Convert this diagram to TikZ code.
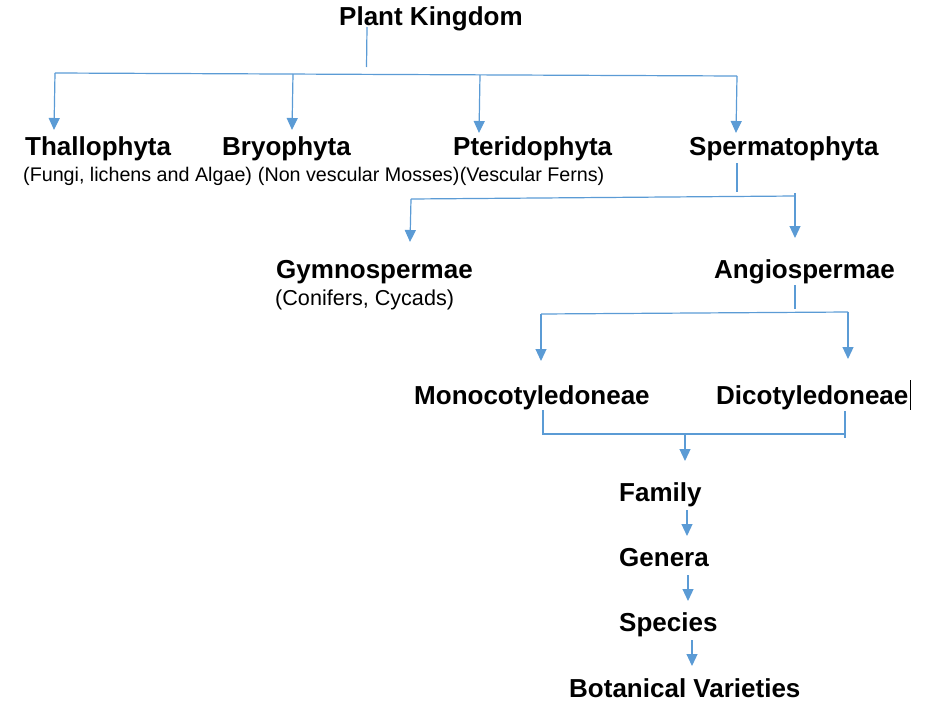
\documentclass[tikz,border=0pt]{standalone}
\usepackage{fontspec}
\setmainfont{Liberation Sans}
\usetikzlibrary{arrows.meta}
\definecolor{lineblue}{HTML}{5B9BD5}
\tikzset{
  ttl/.style={anchor=base west, inner sep=0pt, font=\fontsize{26}{30}\selectfont\bfseries},
  sub/.style={anchor=base west, inner sep=0pt, font=\fontsize{19.7}{23}\selectfont},
  ln/.style={draw=lineblue, line width=1.2pt},
  arr/.style={ln, -{Triangle[length=12pt,width=11pt]}, fill=lineblue}
}
\begin{document}
\begin{tikzpicture}[x=1pt,y=-1pt]
\useasboundingbox (0,0) rectangle (941,704);
% titles
\node[ttl] (pk) at (339,25) {Plant Kingdom};
\node[ttl] (thal) at (25,155) {Thallophyta};
\node[ttl] (bryo) at (222,155) {Bryophyta};
\node[ttl] (pter) at (453,155) {Pteridophyta};
\node[ttl] (sperm) at (689,155) {Spermatophyta};
\node[sub] (thalsub) at (23,181) {(Fungi, lichens and Algae)};
\node[sub] (bryosub) at ([xshift=5.5pt]thalsub.base east) {(Non vescular Mosses)};
\node[sub] (ptersub) at (bryosub.base east) {(Vescular Ferns)};
\node[ttl] (gymno) at (276,278) {Gymnospermae};
\node[sub, font=\fontsize{21.6}{25}\selectfont] (gymnosub) at (275,305) {(Conifers, Cycads)};
\node[ttl] (angio) at (714,278) {Angiospermae};
\node[ttl] (mono) at (414,404) {Monocotyledoneae};
\node[ttl] (dico) at (716,404) {Dicotyledoneae};
\node[ttl] (fam) at (619,501) {Family};
\node[ttl] (gen) at (619,566) {Genera};
\node[ttl] (spec) at (619,631) {Species};
\node[ttl] (bot) at (569,697) {Botanical Varieties};
% junction coordinates
\coordinate (pkA) at (367,27);
\coordinate (pkB) at (366.5,67);
\coordinate (h1L) at (55,73);
\coordinate (h1B) at (293,74);
\coordinate (h1P) at (480,75);
\coordinate (h1R) at (737,76);
\coordinate (tThal) at (54,130);
\coordinate (tBryo) at (292,130);
\coordinate (tPter) at (479,133);
\coordinate (tSperm) at (736,133);
\coordinate (spA) at (737,163);
\coordinate (spB) at (737,192);
\coordinate (h2L) at (411,199);
\coordinate (h2R) at (795,196);
\coordinate (h2T) at (795,193);
\coordinate (tGymno) at (410,242);
\coordinate (tAngio) at (795,238);
\coordinate (anA) at (795,285);
\coordinate (anB) at (795,309);
\coordinate (h3L) at (541,314);
\coordinate (h3R) at (848,312);
\coordinate (tMono) at (541,361);
\coordinate (tDico) at (848,359);
\coordinate (moA) at (543,410);
\coordinate (h4L) at (543,434);
\coordinate (diA) at (845,411);
\coordinate (h4R) at (845,434);
\coordinate (h4R2) at (845,438);
\coordinate (h4M) at (685,434);
\coordinate (tFam) at (685,461);
\coordinate (faA) at (687,510);
\coordinate (tGen) at (687,536);
\coordinate (geA) at (688,575);
\coordinate (tSpec) at (688,601);
\coordinate (scA) at (692,640);
\coordinate (tBot) at (692,666);
% connectors
\draw[ln] (pkA) -- (pkB);
\draw[ln] (h1L) -- (h1R);
\draw[arr] (h1L) -- (tThal);
\draw[arr] (h1B) -- (tBryo);
\draw[arr] (h1P) -- (tPter);
\draw[arr] (h1R) -- (tSperm);
\draw[ln] (spA) -- (spB);
\draw[ln] (h2L) -- (h2R);
\draw[ln] (h2T) -- (h2R);
\draw[arr] (h2L) -- (tGymno);
\draw[arr] (h2R) -- (tAngio);
\draw[ln] (anA) -- (anB);
\draw[ln] (h3L) -- (h3R);
\draw[arr] (h3L) -- (tMono);
\draw[arr] (h3R) -- (tDico);
\draw[ln] (moA) -- (h4L) -- (h4R);
\draw[ln] (diA) -- (h4R2);
\draw[arr] (h4M) -- (tFam);
\draw[arr] (faA) -- (tGen);
\draw[arr] (geA) -- (tSpec);
\draw[arr] (scA) -- (tBot);
% text cursor
\draw[black, line width=1pt] (910,380) -- (910,410);
\end{tikzpicture}
\end{document}
